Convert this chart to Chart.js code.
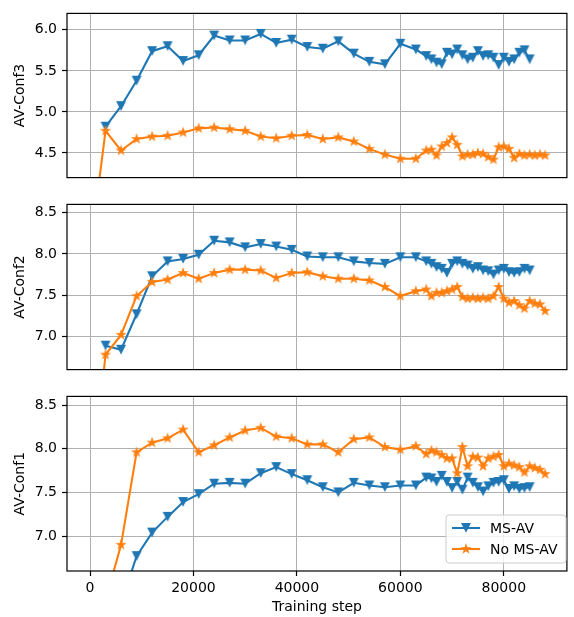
<!DOCTYPE html>
<html><head><meta charset="utf-8">
<script src="https://cdn.jsdelivr.net/npm/chart.js@4.4.0/dist/chart.umd.min.js"></script>
<style>
html,body{margin:0;padding:0;background:#fff;}
#wrap{position:relative;width:574px;height:617px;overflow:hidden;background:#fff;}
canvas{position:absolute;left:0;}
</style></head><body>
<div id="wrap">
<canvas id="c3" width="574" height="191" style="top:0px"></canvas>
<canvas id="c2" width="574" height="192" style="top:191px"></canvas>
<canvas id="c1" width="574" height="234" style="top:383px"></canvas>
</div>
<script>
// ---------------- data ----------------
const seriesNames = ['MS-AV', 'No MS-AV'];
const panelLabels = ['AV-Conf3', 'AV-Conf2', 'AV-Conf1'];
const xTitle = 'Training step';

const stepsMS = [3000,6000,9000,12000,15000,18000,21000,24000,27000,30000,33000,36000,39000,42000,45000,48000,51000,54000,57000,60000,63000,
  65000,66000,67000,68000,69000,70000,71000,72000,73000,74000,75000,76000,77000,78000,79000,80000,81000,82000,83000,84000,85000];
const stepsNoMS = [0,3000,6000,9000,12000,15000,18000,21000,24000,27000,30000,33000,36000,39000,42000,45000,48000,51000,54000,57000,60000,63000,
  65000,66000,67000,68000,69000,70000,71000,72000,73000,74000,75000,76000,77000,78000,79000,80000,81000,82000,83000,84000,85000,86000,87000,88000];

const conf3MS = [4.82,5.07,5.38,5.74,5.80,5.62,5.69,5.93,5.87,5.87,5.95,5.84,5.88,5.79,5.77,5.86,5.71,5.61,5.58,5.83,5.76,
  5.68,5.64,5.60,5.58,5.72,5.70,5.76,5.69,5.64,5.66,5.74,5.68,5.69,5.66,5.57,5.66,5.61,5.64,5.72,5.75,5.64];
const conf3NoMS = [3.28,4.77,4.53,4.67,4.70,4.71,4.75,4.80,4.81,4.79,4.77,4.70,4.68,4.71,4.72,4.67,4.69,4.64,4.55,4.48,4.43,4.43,
  4.53,4.54,4.47,4.58,4.62,4.69,4.60,4.46,4.48,4.48,4.50,4.49,4.45,4.42,4.57,4.58,4.55,4.44,4.49,4.47,4.48,4.47,4.48,4.47];

const conf2MS = [6.89,6.84,7.27,7.73,7.91,7.94,7.99,8.16,8.14,8.08,8.12,8.09,8.05,7.97,7.96,7.96,7.91,7.89,7.88,7.96,7.96,
  7.91,7.88,7.84,7.82,7.77,7.88,7.91,7.88,7.86,7.82,7.84,7.80,7.79,7.75,7.80,7.82,7.78,7.77,7.78,7.82,7.80];
const conf2NoMS = [4.98,6.78,7.02,7.49,7.66,7.69,7.77,7.70,7.77,7.81,7.81,7.80,7.71,7.77,7.78,7.73,7.70,7.70,7.68,7.60,7.49,7.55,
  7.57,7.49,7.53,7.53,7.55,7.57,7.60,7.48,7.46,7.47,7.46,7.47,7.46,7.49,7.60,7.46,7.41,7.43,7.38,7.34,7.43,7.40,7.39,7.31];

const conf1MS = [5.90,6.22,6.77,7.04,7.22,7.39,7.48,7.60,7.61,7.60,7.72,7.79,7.71,7.64,7.56,7.50,7.61,7.58,7.56,7.58,7.58,
  7.67,7.66,7.62,7.69,7.62,7.55,7.62,7.53,7.67,7.61,7.56,7.51,7.57,7.61,7.62,7.64,7.54,7.57,7.54,7.55,7.56];
const conf1NoMS = [5.00,6.26,6.90,7.96,8.07,8.12,8.22,7.96,8.04,8.13,8.21,8.24,8.14,8.12,8.05,8.05,7.96,8.11,8.13,8.02,7.99,8.03,
  7.94,7.98,7.96,7.93,7.89,7.89,7.72,8.02,7.80,7.91,7.90,7.80,7.89,7.91,7.93,7.80,7.83,7.81,7.79,7.73,7.80,7.78,7.76,7.71];

const xTicks = [0,20000,40000,60000,80000];
const conf3Ticks = [4.5,5.0,5.5,6.0];
const conf2Ticks = [7.0,7.5,8.0,8.5];
const conf1Ticks = [7.0,7.5,8.0,8.5];

// ---------------- style ----------------
const BLUE = '#1f77b4', ORANGE = '#ff7f0e';
const FONT = "'DejaVu Sans', 'Liberation Sans', sans-serif";
Chart.defaults.font.family = FONT;
Chart.defaults.font.size = 14;
Chart.defaults.color = '#000';

function triCanvas(color){
  const s = 14, c = document.createElement('canvas'); c.width = s; c.height = s;
  const g = c.getContext('2d'), cx = s/2, cy = s/2 - 0.5, h = 3.9;
  g.beginPath(); g.moveTo(cx-h, cy-h); g.lineTo(cx+h, cy-h); g.lineTo(cx, cy+h); g.closePath();
  g.fillStyle = color; g.fill(); g.lineWidth = 1.3; g.lineJoin = 'miter'; g.strokeStyle = color; g.stroke();
  return c;
}
function starCanvas(color){
  const s = 14, c = document.createElement('canvas'); c.width = s; c.height = s;
  const g = c.getContext('2d'), cx = s/2, cy = s/2, R = 4.1, r = R*0.382;
  g.beginPath();
  for (let i = 0; i < 10; i++){
    const a = -Math.PI/2 + i*Math.PI/5, rad = (i % 2 === 0) ? R : r;
    g.lineTo(cx + rad*Math.cos(a), cy + rad*Math.sin(a));
  }
  g.closePath(); g.fillStyle = color; g.fill(); g.lineWidth = 1.1; g.lineJoin = 'miter'; g.strokeStyle = color; g.stroke();
  return c;
}
const triBlue = triCanvas(BLUE), starOrange = starCanvas(ORANGE);

const frame = {
  id: 'frame',
  afterDatasetsDraw(chart){
    const {ctx, chartArea: a} = chart;
    ctx.save(); ctx.strokeStyle = '#000'; ctx.lineWidth = 1.2;
    ctx.strokeRect(a.left, a.top, a.right - a.left, a.bottom - a.top);
    ctx.restore();
  }
};

const legendBox = {
  id: 'legendBox',
  afterDraw(chart){
    const ctx = chart.ctx;
    const x = 446, y = 132, w = 120, h = 48, rr = 3;
    ctx.save();
    ctx.beginPath();
    ctx.moveTo(x+rr, y); ctx.lineTo(x+w-rr, y); ctx.quadraticCurveTo(x+w, y, x+w, y+rr);
    ctx.lineTo(x+w, y+h-rr); ctx.quadraticCurveTo(x+w, y+h, x+w-rr, y+h);
    ctx.lineTo(x+rr, y+h); ctx.quadraticCurveTo(x, y+h, x, y+h-rr);
    ctx.lineTo(x, y+rr); ctx.quadraticCurveTo(x, y, x+rr, y); ctx.closePath();
    ctx.fillStyle = 'rgba(255,255,255,0.8)'; ctx.fill();
    ctx.strokeStyle = '#cccccc'; ctx.lineWidth = 1; ctx.stroke();
    const rows = [[seriesNames[0], BLUE, triBlue, y + 13], [seriesNames[1], ORANGE, starOrange, y + 34]];
    rows.forEach(([txt, col, img, ry]) => {
      ctx.strokeStyle = col; ctx.lineWidth = 2.1;
      ctx.beginPath(); ctx.moveTo(452, ry); ctx.lineTo(480, ry); ctx.stroke();
      ctx.drawImage(img, 466 - img.width/2, ry - img.height/2);
      ctx.fillStyle = '#000'; ctx.font = '14px ' + FONT; ctx.textBaseline = 'middle'; ctx.textAlign = 'left';
      ctx.fillText(txt, 490, ry + 1);
    });
    ctx.restore();
  }
};

function makePanel(id, yLabel, msVals, noVals, yMin, yMax, yTicks, topPad, xAxisH, showX){
  const ds = [
    {label: seriesNames[0], data: stepsMS.map((s,i) => ({x: s, y: msVals[i]})),
     borderColor: BLUE, backgroundColor: BLUE, borderWidth: 2.1, pointStyle: triBlue,
     pointRadius: 5, pointHoverRadius: 5, tension: 0, order: 1},
    {label: seriesNames[1], data: stepsNoMS.map((s,i) => ({x: s, y: noVals[i]})),
     borderColor: ORANGE, backgroundColor: ORANGE, borderWidth: 2.1, pointStyle: starOrange,
     pointRadius: 5, pointHoverRadius: 5, tension: 0, order: 0}
  ];
  const plugins = [frame];
  if (showX) plugins.push(legendBox);
  return new Chart(document.getElementById(id), {
    type: 'line',
    data: {datasets: ds},
    plugins,
    options: {
      responsive: false, animation: false, events: [],
      layout: {padding: {left: 0, right: 1, top: topPad, bottom: 0}},
      plugins: {legend: {display: false}, tooltip: {enabled: false}},
      scales: {
        x: {
          type: 'linear', min: -4450, max: 92200,
          afterBuildTicks: s => { s.ticks = xTicks.map(v => ({value: v})); },
          afterFit: s => { s.height = xAxisH; },
          border: {display: false},
          grid: {color: '#b0b0b0', lineWidth: 1, drawTicks: showX, tickLength: 5, tickColor: '#000', tickWidth: 1.2},
          ticks: {display: showX, padding: 4, maxRotation: 0, autoSkip: false, color: '#000',
                  font: {size: 14}, callback: v => String(v)},
          title: {display: showX, text: xTitle, color: '#000', font: {size: 14}, padding: {top: 0, bottom: 1}}
        },
        y: {
          type: 'linear', min: yMin, max: yMax,
          afterBuildTicks: s => { s.ticks = yTicks.map(v => ({value: v})); },
          afterFit: s => { s.width = 67; },
          border: {display: false},
          grid: {color: '#b0b0b0', lineWidth: 1, drawTicks: true, tickLength: 5, tickColor: '#000', tickWidth: 1.2},
          ticks: {padding: 5, color: '#000', font: {size: 14}, callback: v => Number(v).toFixed(1)},
          title: {display: true, text: yLabel, color: '#000', font: {size: 14}, padding: {top: 12, bottom: 0}}
        }
      }
    }
  });
}

makePanel('c3', panelLabels[0], conf3MS, conf3NoMS, 4.2, 6.2, conf3Ticks, 4, 5, false);
makePanel('c2', panelLabels[1], conf2MS, conf2NoMS, 6.6, 8.6, conf2Ticks, 5, 5, false);
makePanel('c1', panelLabels[2], conf1MS, conf1NoMS, 6.6, 8.6, conf1Ticks, 4, 46, true);
</script>
</body></html>
